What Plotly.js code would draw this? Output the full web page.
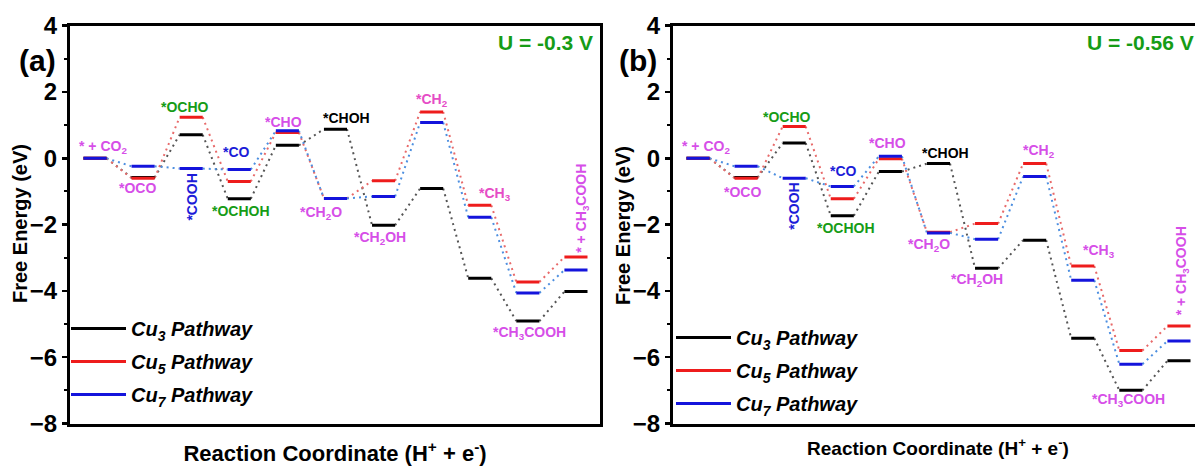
<!DOCTYPE html>
<html>
<head>
<meta charset="utf-8">
<script src="https://cdn.plot.ly/plotly-3.0.1.min.js"></script>
<style>
  html, body { margin: 0; padding: 0; overflow: hidden; background: #fff; }
  #chart { width: 1206px; height: 466px; }
</style>
</head>
<body>
<div id="chart"></div>
<script>
// ---- data ----
const steps = [0, 1, 2, 3, 4, 5, 6, 7, 8, 9, 10];
const pathwayNames = ["Cu<sub>3</sub> Pathway", "Cu<sub>5</sub> Pathway", "Cu<sub>7</sub> Pathway"];

// Panel (a): U = -0.3 V
const a_cu3 = [0, -0.58, 0.71, -1.22, 0.39, 0.88, -2.02, -0.91, -3.62, -4.91, -4.02];
const a_cu5 = [0, -0.60, 1.24, -0.70, 0.78, -1.21, -0.68, 1.40, -1.42, -3.73, -2.98];
const a_cu7 = [0, -0.24, -0.31, -0.34, 0.83, -1.21, -1.15, 1.08, -1.78, -4.06, -3.37];

// Panel (b): U = -0.56 V
const b_cu3 = [0, -0.58, 0.46, -1.73, -0.40, -0.16, -3.32, -2.47, -5.43, -7.00, -6.11];
const b_cu5 = [0, -0.60, 0.96, -1.22, -0.01, -2.23, -1.97, -0.16, -3.25, -5.80, -5.06];
const b_cu7 = [0, -0.24, -0.60, -0.85, 0.06, -2.25, -2.44, -0.55, -3.68, -6.21, -5.51];

// intermediate labels: [text, x, y, color, angle]
const labelsA = [
  ["* + CO<sub>2</sub>", 0.17, 0.34, "mag", 0],
  ["*OCO", 0.89, -0.90, "mag", 0],
  ["*OCHO", 1.87, 1.56, "green", 0],
  ["*COOH", 2.02, -1.18, "blue", -90],
  ["*CO", 2.95, 0.19, "blue", 0],
  ["*OCHOH", 3.04, -1.59, "green", 0],
  ["*CHO", 3.92, 1.10, "mag", 0],
  ["*CHOH", 5.22, 1.21, "black", 0],
  ["*CH<sub>2</sub>O", 4.70, -1.65, "mag", 0],
  ["*CH<sub>2</sub>OH", 5.93, -2.40, "mag", 0],
  ["*CH<sub>2</sub>", 7.00, 1.76, "pink", 0],
  ["*CH<sub>3</sub>", 8.32, -1.08, "pink", 0],
  ["*CH<sub>3</sub>COOH", 9.04, -5.27, "mag", 0],
  ["* + CH<sub>3</sub>COOH", 10.12, -1.50, "mag", -90]
];
const labelsB = [
  ["* + CO<sub>2</sub>", 0.16, 0.34, "mag", 0],
  ["*OCO", 0.92, -1.02, "mag", 0],
  ["*OCHO", 1.86, 1.24, "green", 0],
  ["*COOH", 1.99, -1.44, "blue", -90],
  ["*CO", 3.02, -0.38, "blue", 0],
  ["*OCHOH", 3.07, -2.10, "green", 0],
  ["*CHO", 3.95, 0.46, "mag", 0],
  ["*CHOH", 5.15, 0.16, "black", 0],
  ["*CH<sub>2</sub>O", 4.81, -2.62, "mag", 0],
  ["*CH<sub>2</sub>OH", 5.81, -3.67, "mag", 0],
  ["*CH<sub>2</sub>", 7.08, 0.22, "mag", 0],
  ["*CH<sub>3</sub>", 8.33, -2.80, "mag", 0],
  ["*CH<sub>3</sub>COOH", 8.95, -7.29, "mag", 0],
  ["* + CH<sub>3</sub>COOH", 10.07, -3.40, "mag", -90]
];

// ---- styling ----
const W = 1206, H = 466;
const FONT = "Arial, 'Liberation Sans', sans-serif";
const levelColors = ["#000000", "#ee1c1c", "#1414dc"];
const linkColors = ["#555555", "#e86a6a", "#4d8fe0"];
const labelColors = { mag: "#d64ee8", pink: "#e64cc6", green: "#169c16", blue: "#1c1cd8", black: "#000000" };
const HALF = 0.24;

function levelXY(vals) {
  const x = [], y = [];
  vals.forEach((v, i) => { x.push(steps[i] - HALF, steps[i] + HALF, null); y.push(v, v, null); });
  return { x, y };
}
function linkXY(vals) {
  const x = [], y = [];
  for (let i = 0; i < vals.length - 1; i++) {
    x.push(steps[i] + HALF, steps[i + 1] - HALF, null);
    y.push(vals[i], vals[i + 1], null);
  }
  return { x, y };
}

const traces = [];
const panels = [
  { sets: [a_cu3, a_cu5, a_cu7], xa: "x", ya: "y", lg: "legend" },
  { sets: [b_cu3, b_cu5, b_cu7], xa: "x2", ya: "y2", lg: "legend2" }
];
panels.forEach((p, pi) => {
  p.sets.forEach((vals, k) => {
    const l = linkXY(vals);
    traces.push({ type: "scatter", mode: "lines", x: l.x, y: l.y, xaxis: p.xa, yaxis: p.ya,
      line: { color: linkColors[k], width: 2, dash: "2px,4px" }, showlegend: false, hoverinfo: "skip" });
  });
  p.sets.forEach((vals, k) => {
    const l = levelXY(vals);
    traces.push({ type: "scatter", mode: "lines", x: l.x, y: l.y, xaxis: p.xa, yaxis: p.ya,
      line: { color: levelColors[k], width: 3 }, name: pathwayNames[k], legend: p.lg,
      legendgroup: "g" + pi + k, hoverinfo: "skip" });
  });
});

const annotations = [];
function addLabels(list, xr, yr) {
  list.forEach(([t, x, y, c, ang]) => {
    annotations.push({ text: t, x, y, xref: xr, yref: yr, showarrow: false, textangle: ang,
      font: { family: FONT, size: 14, color: labelColors[c], weight: "bold" } });
  });
}
addLabels(labelsA, "x", "y");
addLabels(labelsB, "x2", "y2");

const titleFont = { family: FONT, size: 20, color: "#000", weight: "bold" };
annotations.push({ text: "U = -0.3 V", x: 10.4, y: 3.48, xref: "x", yref: "y", xanchor: "right", showarrow: false,
  font: { family: FONT, size: 21, color: "#169c16", weight: "bold" } });
annotations.push({ text: "U = -0.56 V", x: 8.04, y: 3.48, xref: "x2", yref: "y2", xanchor: "left", showarrow: false,
  font: { family: FONT, size: 21, color: "#169c16", weight: "bold" } });
annotations.push({ text: "(a)", x: 37 / W, y: 1 - 61 / H, xref: "paper", yref: "paper", xanchor: "center", yanchor: "middle",
  showarrow: false, font: { family: FONT, size: 30, color: "#000", weight: "bold" } });
annotations.push({ text: "(b)", x: 638 / W, y: 1 - 61 / H, xref: "paper", yref: "paper", xanchor: "center", yanchor: "middle",
  showarrow: false, font: { family: FONT, size: 30, color: "#000", weight: "bold" } });
annotations.push({ text: "Free Energy (eV)", x: 20 / W, y: 1 - 224 / H, xref: "paper", yref: "paper", textangle: -90,
  xanchor: "center", yanchor: "middle", showarrow: false, font: titleFont });
annotations.push({ text: "Free Energy (eV)", x: 623 / W, y: 1 - 226 / H, xref: "paper", yref: "paper", textangle: -90,
  xanchor: "center", yanchor: "middle", showarrow: false, font: titleFont });

const yDomain = [(H - 423.5) / H, (H - 25.7) / H];
function xAxis(dom, anchor, titleSize, standoff) {
  return { domain: dom, anchor, range: [-0.52, 10.5], showgrid: false, zeroline: false,
    showticklabels: false, ticks: "", showline: true, mirror: true, linewidth: 3, linecolor: "#000",
    title: { text: "Reaction Coordinate (H<sup>+</sup> + e<sup>-</sup>)", standoff,
      font: { family: FONT, size: titleSize, color: "#000", weight: "bold" } } };
}
function yAxis(anchor) {
  return { domain: yDomain, anchor, range: [-8, 4], tickvals: [-8, -6, -4, -2, 0, 2, 4],
    showgrid: false, zeroline: false, showline: true, mirror: true, linewidth: 3, linecolor: "#000",
    ticks: "outside", ticklen: 5, tickwidth: 2.5, tickcolor: "#000",
    minor: { dtick: 1, tick0: 0, ticks: "outside", ticklen: 3, tickwidth: 2, tickcolor: "#000" },
    tickfont: { family: FONT, size: 24, color: "#000", weight: "bold" } };
}

const legendBase = {
  bgcolor: "rgba(0,0,0,0)", borderwidth: 0, xanchor: "left", yanchor: "top",
  font: { family: FONT, size: 20, color: "#000", weight: "bold", style: "italic" },
  itemwidth: 55, tracegroupgap: 4
};

const layout = {
  width: W, height: H,
  margin: { l: 0, r: 0, t: 0, b: 0 },
  paper_bgcolor: "#fff", plot_bgcolor: "#fff",
  showlegend: true,
  xaxis: xAxis([70 / W, 600 / W], "y", 22, 26),
  yaxis: yAxis("x"),
  xaxis2: xAxis([673 / W, 1203 / W], "y2", 19, 17),
  yaxis2: yAxis("x2"),
  legend: Object.assign({}, legendBase, { x: 66 / W, y: 1 - 309 / H }),
  legend2: Object.assign({}, legendBase, { x: 671 / W, y: 1 - 318 / H }),
  annotations
};

Plotly.newPlot("chart", traces, layout, { displayModeBar: false, staticPlot: true });
</script>
</body>
</html>
